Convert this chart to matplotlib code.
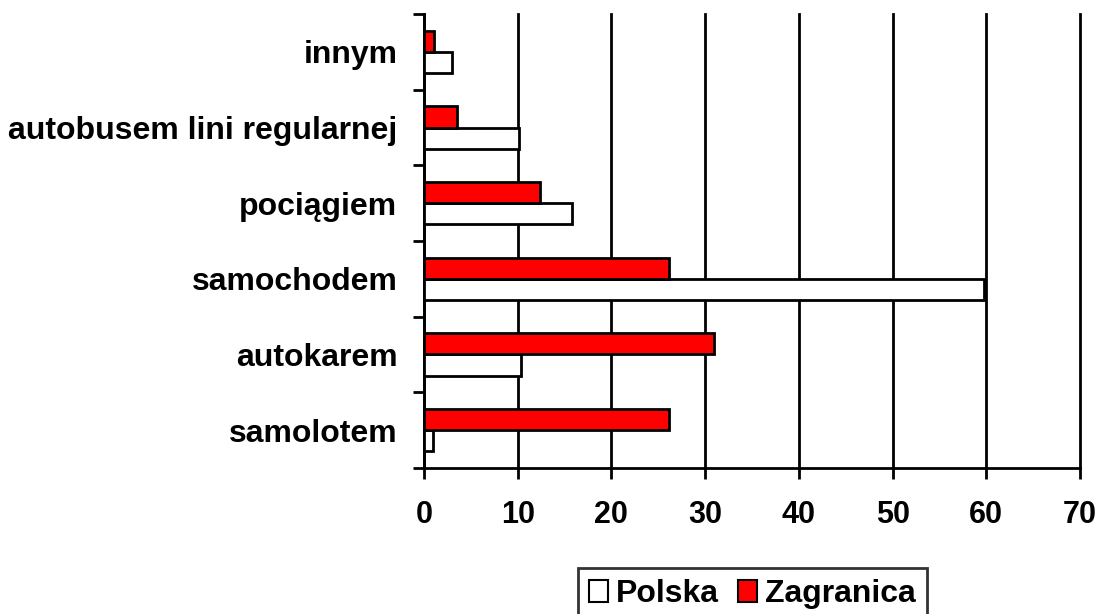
import matplotlib.pyplot as plt
import numpy as np

plt.rcParams['font.family'] = ['Liberation Sans', 'DejaVu Sans']
plt.rcParams['font.weight'] = 'bold'

kategorie = ["samolotem", "autokarem", "samochodem", "pociągiem",
             "autobusem lini regularnej", "innym"]
polska = [1.0, 10.4, 59.8, 15.8, 10.1, 3.0]
zagranica = [26.1, 31.0, 26.1, 12.4, 3.5, 1.1]

fig = plt.figure(figsize=(11.01, 6.14), dpi=100)
ax = fig.add_axes([0.385, 0.238, 0.596, 0.739])

y = np.arange(len(kategorie))
h = 0.28
ax.barh(y - h / 2, polska, height=h, color="white", edgecolor="black",
        linewidth=2, label="Polska", zorder=3)
ax.barh(y + h / 2, zagranica, height=h, color="#ff0000", edgecolor="black",
        linewidth=2, label="Zagranica", zorder=3)

ax.set_xlim(0, 70)
ax.set_ylim(-0.5, len(kategorie) - 0.5)
ax.set_xticks(range(0, 71, 10))
ax.set_yticks(y)
ax.set_yticklabels(kategorie)
ax.set_yticks(np.arange(-0.5, len(kategorie), 1), minor=True)
ax.tick_params(axis="y", which="major", length=0, pad=19, labelsize=23)
ax.tick_params(axis="y", which="minor", length=8, width=2, direction="out")
ax.tick_params(axis="x", length=8, width=2, direction="out", pad=15,
               labelsize=22)

ax.xaxis.grid(True, color="black", linewidth=2, zorder=0)
for g in ax.get_xgridlines():
    g.set_clip_on(False)
for s in ["top", "right"]:
    ax.spines[s].set_visible(False)
for s in ["left", "bottom"]:
    ax.spines[s].set_linewidth(2)

leg = fig.legend(loc="upper center", bbox_to_anchor=(0.6835, 0.075), ncol=2,
                 fontsize=23, frameon=True, fancybox=False, handlelength=0.6,
                 handleheight=0.65, handletextpad=0.25, columnspacing=0.6,
                 borderpad=0.35, borderaxespad=0)
leg.get_frame().set_edgecolor("black")
leg.get_frame().set_linewidth(2)
for p in leg.get_patches():
    p.set_linewidth(1.5)

fig.savefig("out.png")
